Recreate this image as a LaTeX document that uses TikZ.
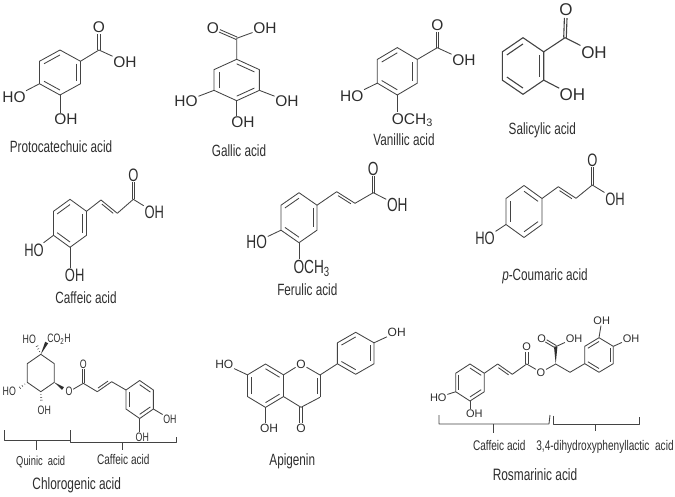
\documentclass[tikz,border=0pt]{standalone}
\usepackage{fontspec}
\usepackage{tikz}
\usetikzlibrary{calc}
\setmainfont{Liberation Sans}
\newfontfamily\narrowfont[FakeStretch=0.72]{Liberation Sans}
\definecolor{inkc}{HTML}{2e2e2e}
\tikzset{
    bond/.style={line width=.85pt,draw=inkc!90,line join=round},
    atom/.style={font=\fontsize{#1}{#1}\selectfont,text=inkc,inner sep=.6pt},
    natom/.style={font=\narrowfont\fontsize{#1}{#1}\selectfont,text=inkc,inner sep=.6pt},
    caption/.style={font=\narrowfont\fontsize{#1}{#1}\selectfont,text=inkc,inner sep=0pt}
}
\newcommand{\hexpts}[5]{
    \coordinate (#11) at (#2,#3-#5);
    \coordinate (#12) at (#2+#4,#3-#5/2);
    \coordinate (#13) at (#2+#4,#3+#5/2);
    \coordinate (#14) at (#2,#3+#5);
    \coordinate (#15) at (#2-#4,#3+#5/2);
    \coordinate (#16) at (#2-#4,#3-#5/2);
    \coordinate (#1c) at (#2,#3);
    \draw[bond] (#11) -- (#12) -- (#13) -- (#14) -- (#15) -- (#16) -- cycle;
}
\newcommand{\hexdbl}[2]{
    \foreach \a/\b in {#2} {\draw[bond] ($(#1c)!.78!(#1\a)$) -- ($(#1c)!.78!(#1\b)$);}
}
\newcommand{\sidedbl}[2]{
    \draw[bond] (#1) -- (#2);
    \draw[bond] ($(#1)!.15!(#2)!2.6pt!-90:(#2)$) -- ($(#2)!.15!(#1)!2.6pt!90:(#1)$);
}
\newcommand{\ketone}[3]{
    \draw[bond] ($(#1)!1.3pt!90:(#2)$) -- ($(#2)!#3!(#1)!1.3pt!-90:(#1)$);
    \draw[bond] ($(#1)!1.3pt!-90:(#2)$) -- ($(#2)!#3!(#1)!1.3pt!90:(#1)$);
}
\newcommand{\wedgebond}[2]{
    \fill[inkc] (#1) -- ($(#2)!1.7pt!90:(#1)$) -- ($(#2)!1.7pt!-90:(#1)$) -- cycle;
}
\newcommand{\hashbond}[2]{
    \foreach \t/\w in {.25/.5,.5/.9,.75/1.3,1/1.7} {
        \draw[inkc,line width=.5pt] ($(#1)!\t!(#2)!\w pt!90:(#2)$) -- ($(#1)!\t!(#2)!\w pt!-90:(#2)$);
    }
}
\begin{document}
\begin{tikzpicture}[x=1pt,y=-1pt]
    \useasboundingbox (0,0) rectangle (675,497);

    % top row
    \hexpts{prot}{60}{72.5}{20.5}{22.5}
    \hexdbl{prot}{6/1,2/3,4/5}
    \coordinate (protC) at (99,50);
    \node[atom=15.5] (protO) at (99,27) {O};
    \node[atom=15.5] (protOH) at (125,62) {OH};
    \node[atom=15.5] (protHOa) at (14,97) {HO};
    \node[atom=15.5] (protHOb) at (66,119) {OH};
    \draw[bond] (prot2) -- (protC) -- (protOH);
    \ketone{protC}{protO}{7pt}
    \draw[bond] (prot5) -- (protHOa);
    \draw[bond] (prot4) -- (prot4 |- protHOb.north);
    \node[caption=16.3] (protName) at (61,147) {Protocatechuic acid};

    \hexpts{gall}{236.7}{80}{22.7}{20.7}
    \hexdbl{gall}{5/6,1/2,3/4}
    \coordinate (gallC) at (236.7,38.3);
    \node[atom=15.5] (gallO) at (213,28) {O};
    \node[atom=15.5] (gallOH) at (265,28) {OH};
    \node[atom=15.5] (gallHOa) at (186,101) {HO};
    \node[atom=15.5] (gallHOb) at (287,101) {OH};
    \node[atom=15.5] (gallHOc) at (243,122) {OH};
    \draw[bond] (gall1) -- (gallC) -- (gallOH);
    \ketone{gallC}{gallO}{7pt}
    \draw[bond] (gall5) -- (gallHOa);
    \draw[bond] (gall3) -- (gallHOb);
    \draw[bond] (gall4) -- (gall4 |- gallHOc.north);
    \node[caption=16.3] (gallName) at (239,150.7) {Gallic acid};

    \hexpts{vani}{397.3}{71.3}{20}{23.7}
    \hexdbl{vani}{6/1,2/3,4/5}
    \coordinate (vaniC) at (437.3,47.7);
    \node[atom=15.5] (vaniO) at (437.3,25) {O};
    \node[atom=15.5] (vaniOH) at (464,60) {OH};
    \node[atom=15.5] (vaniHO) at (351.7,95.7) {HO};
    \node[atom=15.5] (vaniMe) at (412.3,120) {OCH\textsubscript{3}};
    \draw[bond] (vani2) -- (vaniC) -- (vaniOH);
    \ketone{vaniC}{vaniO}{7pt}
    \draw[bond] (vani5) -- (vaniHO);
    \draw[bond] (vani4) -- (vani4 |- vaniMe.north);
    \node[caption=16.3] (vaniName) at (404,139.3) {Vanillic acid};

    \begin{scope}[bond/.append style={line width=1.1pt}]
        \hexpts{sali}{523}{66}{20.7}{28.3}
        \hexdbl{sali}{6/1,2/3,4/5}
        \coordinate (saliC) at (565,37.7);
        \node[atom=17] (saliO) at (566,10) {O};
        \node[atom=17] (saliOH) at (594,52.3) {OH};
        \node[atom=17] (saliHO) at (572.3,95) {OH};
        \draw[bond] (sali2) -- (saliC) -- (saliOH);
        \ketone{saliC}{saliO}{8pt}
        \draw[bond] (sali3) -- (saliHO);
    \end{scope}
    \node[caption=16.3] (saliName) at (542.3,130) {Salicylic acid};

    % middle row
    \hexpts{caff}{70}{223.3}{16.5}{24}
    \hexdbl{caff}{6/1,2/3,4/5}
    \coordinate (caffA) at (101,200);
    \coordinate (caffB) at (117.3,213.3);
    \coordinate (caffC) at (133.3,199.3);
    \node[natom=18] (caffO) at (133.3,175) {O};
    \node[natom=18] (caffOH) at (154.3,212.3) {OH};
    \node[natom=18] (caffHOa) at (34,250) {HO};
    \node[natom=18] (caffHOb) at (74.7,275) {OH};
    \draw[bond] (caff2) -- (caffA);
    \sidedbl{caffA}{caffB}
    \draw[bond] (caffB) -- (caffC) -- (caffOH);
    \ketone{caffC}{caffO}{7pt}
    \draw[bond] (caff5) -- (caffHOa);
    \draw[bond] (caff4) -- (caff4 |- caffHOb.north);
    \node[caption=16.3] (caffName) at (86,297.7) {Caffeic acid};

    \hexpts{feru}{299}{217.7}{18}{25}
    \hexdbl{feru}{6/1,2/3,4/5}
    \coordinate (feruA) at (336.7,191.7);
    \coordinate (feruB) at (355,203.3);
    \coordinate (feruC) at (373.3,192.7);
    \node[natom=19] (feruO) at (373.3,169.3) {O};
    \node[natom=19] (feruOH) at (397.3,205) {OH};
    \node[natom=19] (feruHO) at (256.7,241.7) {HO};
    \node[natom=19] (feruMe) at (311.7,268.3) {OCH\textsubscript{3}};
    \draw[bond] (feru2) -- (feruA);
    \sidedbl{feruA}{feruB}
    \draw[bond] (feruB) -- (feruC) -- (feruOH);
    \ketone{feruC}{feruO}{7pt}
    \draw[bond] (feru5) -- (feruHO);
    \draw[bond] (feru4) -- (feru4 |- feruMe.north);
    \node[caption=16.3] (feruName) at (307.3,290) {Ferulic acid};

    \hexpts{coum}{524}{211.5}{18}{26}
    \hexdbl{coum}{5/6,1/2,3/4}
    \coordinate (coumA) at (558.3,186.7);
    \coordinate (coumB) at (576,198.3);
    \coordinate (coumC) at (592.3,185);
    \node[natom=18] (coumO) at (592.3,160) {O};
    \node[natom=18] (coumOH) at (615,199) {OH};
    \node[natom=18] (coumHO) at (485,238.3) {HO};
    \draw[bond] (coum2) -- (coumA);
    \sidedbl{coumA}{coumB}
    \draw[bond] (coumB) -- (coumC) -- (coumOH);
    \ketone{coumC}{coumO}{7pt}
    \draw[bond] (coum5) -- (coumHO);
    \node[caption=16.3] (coumName) at (545,276.7) {\textit{p}-Coumaric acid};

    % bottom row
    \hexpts{quin}{40.8}{373}{13.5}{18.7}
    \coordinate (quinC) at (83.3,383.3);
    \coordinate (quinA) at (97.3,391.7);
    \coordinate (quinB) at (111.7,381.7);
    \coordinate (quinWa) at (46.7,342.5);
    \coordinate (quinWb) at (35.8,343.5);
    \coordinate (quinWc) at (17.5,389.5);
    \coordinate (quinWd) at (41.5,403);
    \coordinate (quinWe) at (63,388.5);
    \node[natom=12.2] (quinHOa) at (29.3,339) {HO};
    \node[natom=12.2] (quinAcid) at (59,339) {CO\textsubscript{2}H};
    \node[natom=12.2] (quinHOb) at (9.3,391.7) {HO};
    \node[natom=12.2] (quinHOc) at (44.3,410) {OH};
    \node[natom=12.2] (quinOe) at (69,391.7) {O};
    \node[natom=12.2] (quinO) at (83.3,364) {O};
    \wedgebond{quin1}{quinWa}
    \hashbond{quin1}{quinWb}
    \hashbond{quin5}{quinWc}
    \hashbond{quin4}{quinWd}
    \wedgebond{quin3}{quinWe}
    \draw[bond] (quinOe) -- (quinC) -- (quinA);
    \ketone{quinC}{quinO}{5pt}
    \sidedbl{quinB}{quinA}
    \hexpts{chlo}{139.7}{399.5}{13.7}{19}
    \hexdbl{chlo}{5/6,1/2,3/4}
    \node[natom=12.2] (chloHOa) at (170,419) {OH};
    \node[natom=12.2] (chloHOb) at (142.3,437.3) {OH};
    \draw[bond] (quinB) -- (chlo6);
    \draw[bond] (chlo3) -- (chloHOa);
    \draw[bond] (chlo4) -- (chlo4 |- chloHOb.north);
    \draw[bond] (4,430) -- (4,440) -- (70,440) -- (70,430);
    \draw[bond] (36,440) -- (36,450);
    \draw[bond] (70,432) -- (70,442.7) -- (176,442.7) -- (176,436.7);
    \draw[bond] (122,442.7) -- (122,450);
    \node[caption=13] (quinName) at (40.7,461.7) {Quinic\ \ acid};
    \node[caption=14] (caffPart) at (123.3,459) {Caffeic acid};
    \node[caption=16.5] (chloName) at (76.7,485.7) {Chlorogenic acid};

    \hexpts{apig}{265.5}{385.7}{18}{21.7}
    \hexdbl{apig}{1/2,3/4,5/6}
    \coordinate (apigC) at (320,375);
    \coordinate (apigD) at (320,397.3);
    \coordinate (apigE) at (301,407.3);
    \node[atom=12] (apigOr) at (301,364) {O};
    \node[atom=12] (apigO) at (301,428.3) {O};
    \node[atom=12] (apigHOa) at (224.3,364) {HO};
    \node[atom=12] (apigHOb) at (269,428.3) {OH};
    \draw[bond] (apig2) -- (apigOr) -- (apigC);
    \sidedbl{apigC}{apigD}
    \draw[bond] (apigD) -- (apigE) -- (apig3);
    \ketone{apigE}{apigO}{5.5pt}
    \draw[bond] (apig6) -- (apigHOa);
    \draw[bond] (apig4) -- (apig4 |- apigHOb.north);
    \hexpts{phen}{355.7}{353.3}{18.3}{21}
    \hexdbl{phen}{6/1,2/3,4/5}
    \node[atom=12] (phenOH) at (396.7,332.3) {OH};
    \draw[bond] (apigC) -- (phen5);
    \draw[bond] (phen2) -- (phenOH);
    \node[caption=16.3] (apigName) at (292.3,461) {Apigenin};

    \hexpts{rosm}{470}{382.5}{14.3}{18.5}
    \hexdbl{rosm}{5/6,1/2,3/4}
    \coordinate (rosmA) at (497.7,364);
    \coordinate (rosmB) at (512.3,374.3);
    \coordinate (rosmC) at (526.7,364);
    \coordinate (rosmS) at (555.7,364);
    \coordinate (rosmK) at (555.7,346.7);
    \coordinate (rosmH) at (570,372.3);
    \node[atom=11] (rosmO) at (526.7,346.7) {O};
    \node[atom=11] (rosmOe) at (541,372.3) {O};
    \node[atom=11] (rosmOk) at (541.7,338.3) {O};
    \node[atom=11] (rosmOH) at (574,338.3) {OH};
    \node[atom=11] (rosmHOa) at (438.3,397.3) {HO};
    \node[atom=11] (rosmHOb) at (474.3,414) {OH};
    \draw[bond] (rosm2) -- (rosmA);
    \sidedbl{rosmA}{rosmB}
    \draw[bond] (rosmB) -- (rosmC) -- (rosmOe) -- (rosmS) -- (rosmH);
    \ketone{rosmC}{rosmO}{5pt}
    \wedgebond{rosmS}{rosmK}
    \ketone{rosmK}{rosmOk}{5pt}
    \draw[bond] (rosmK) -- (rosmOH);
    \draw[bond] (rosm5) -- (rosmHOa);
    \draw[bond] (rosm4) -- (rosm4 |- rosmHOb.north);
    \hexpts{dihy}{599}{355}{14.3}{17.3}
    \hexdbl{dihy}{6/1,2/3,4/5}
    \node[atom=11] (dihyHOa) at (601.7,321) {OH};
    \node[atom=11] (dihyHOb) at (631,338.3) {OH};
    \draw[bond] (rosmH) -- (dihy5);
    \draw[bond] (dihy1) -- (dihyHOa);
    \draw[bond] (dihy2) -- (dihyHOb);
    \draw[bond] (439,415) -- (439,424) -- (549,424) -- (550,415);
    \draw[bond] (493.3,424) -- (493.3,433);
    \draw[bond] (553.3,415.7) -- (553.3,424) -- (639,424) -- (639,416.7);
    \draw[bond] (595.7,424) -- (595.7,431);
    \node[caption=14] (rosmPart) at (499.3,445) {Caffeic acid};
    \node[caption=14] (dihyPart) at (605,447.3) {3,4-dihydroxyphenyllactic\ \ acid};
    \node[caption=16.5] (rosmName) at (535,474.3) {Rosmarinic acid};
\end{tikzpicture}
\end{document}
